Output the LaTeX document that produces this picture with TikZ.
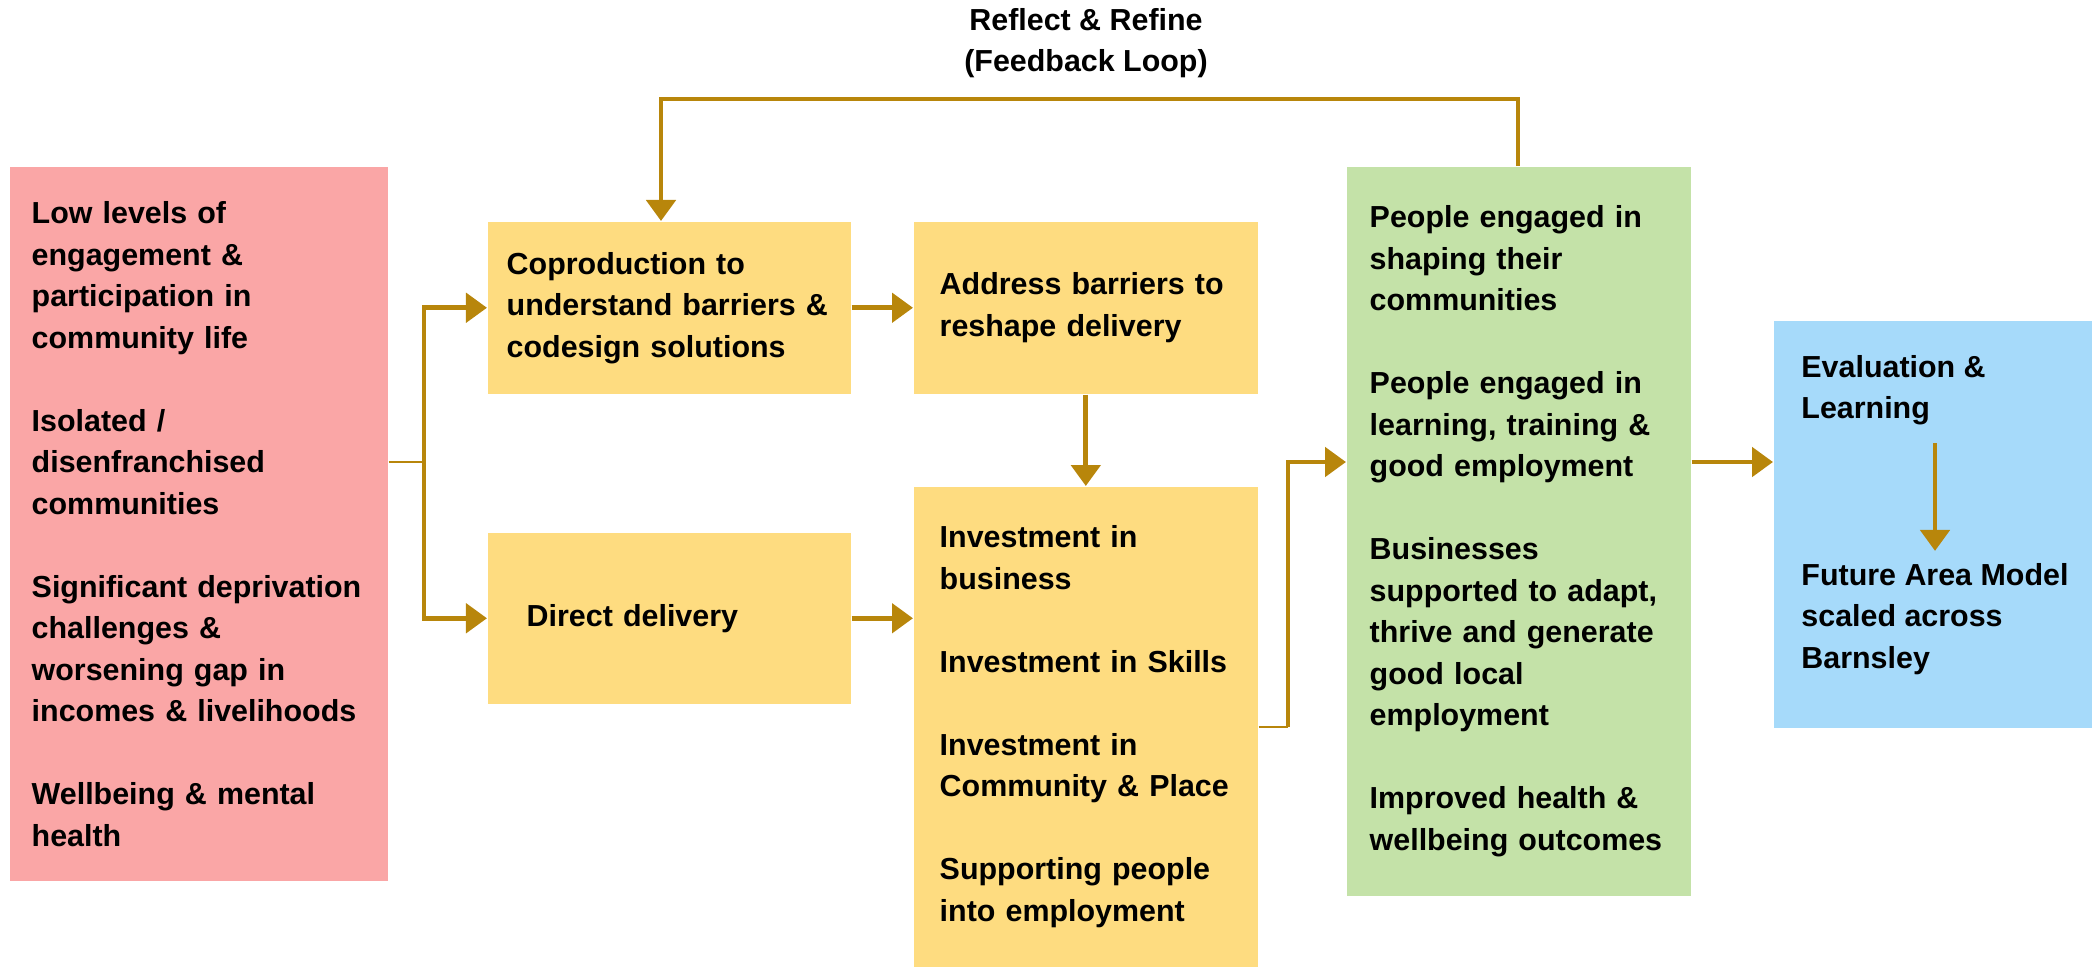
\documentclass[tikz,border=0pt]{standalone}
\usepackage{fontspec}
\setmainfont{Liberation Sans}
\usetikzlibrary{arrows.meta}

\definecolor{gold}{RGB}{184,134,11}
\definecolor{issuered}{RGB}{250,166,166}
\definecolor{stepyellow}{RGB}{254,220,128}
\definecolor{outgreen}{RGB}{196,226,168}
\definecolor{evalblue}{RGB}{166,218,250}

\tikzset{
  box/.style={rectangle, anchor=north west, align=left, inner ysep=0pt,
    font=\fontsize{8.65}{11.8}\selectfont\bfseries},
  txt/.style={align=left, font=\fontsize{8.65}{11.8}\selectfont\bfseries},
  arr/.style={gold, line width=1.4pt, -{Triangle[length=0.21cm,width=0.29cm]}},
  link/.style={gold, line width=0.75pt},
}

\begin{document}
\begin{tikzpicture}[x=0.01cm, y=-0.01cm]
        \def \gap {11.8pt}
        \useasboundingbox (0,0) rectangle (2094,966);

        % left column: the issues
        \node[box, fill=issuered, inner xsep=0.22cm, text width=3.34cm, minimum height=7.14cm] (issues) at (9,166)
          {Low levels of\\engagement \&\\participation in\\community life\\[\gap]
           Isolated /\\disenfranchised\\communities\\[\gap]
           Significant deprivation\\challenges \&\\worsening gap in\\incomes \& livelihoods\\[\gap]
           Wellbeing \& mental\\health};

        % the two routes
        \node[box, fill=stepyellow, inner xsep=0.19cm, text width=3.25cm, minimum height=1.72cm] (coprod) at (487,221)
          {Coproduction to\\understand barriers \&\\codesign solutions};
        \node[box, fill=stepyellow, inner xsep=0.26cm, text width=2.92cm, minimum height=1.72cm] (address) at (913,221)
          {Address barriers to\\reshape delivery};
        \node[box, fill=stepyellow, inner xsep=0.39cm, text width=2.85cm, minimum height=1.71cm] (direct) at (487,532)
          {Direct delivery};
        \node[box, fill=stepyellow, inner xsep=0.26cm, text width=2.92cm, minimum height=4.80cm] (invest) at (913,486)
          {Investment in\\business\\[\gap]
           Investment in Skills\\[\gap]
           Investment in\\Community \& Place\\[\gap]
           Supporting people\\into employment};

        % outcomes
        \node[box, fill=outgreen, inner xsep=0.23cm, text width=2.98cm, minimum height=7.29cm] (outcomes) at (1346,166)
          {People engaged in\\shaping their\\communities\\[\gap]
           People engaged in\\learning, training \&\\good employment\\[\gap]
           Businesses\\supported to adapt,\\thrive and generate\\good local\\employment\\[\gap]
           Improved health \&\\wellbeing outcomes};

        % evaluation
        \node[box, fill=evalblue, minimum width=3.18cm, minimum height=4.07cm] (eval) at (1773,320) {};
        \node[txt, anchor=west] (evaltext) at (1789,390) {Evaluation \&\\Learning};
        \node[txt, anchor=west] (future) at (1789,619) {Future Area Model\\scaled across\\Barnsley};

        \node[txt, align=center] (loop) at (1086,43) {Reflect \& Refine\\(Feedback Loop)};

        \coordinate (split) at (424,462);
        \coordinate (rise) at (1288,462);
        \coordinate (loopl) at (661,99);
        \coordinate (loopr) at (1518,99);
        \coordinate (drop) at (1935,0);

        % connectors
        \draw[link] (issues.east |- split) -- (split);
        \draw[arr] (split |- direct.west) -- (split |- coprod.west) -- (coprod.west);
        \draw[arr] (split) |- (direct.west);
        \draw[arr] (coprod) -- (address);
        \draw[arr] (address) -- (invest);
        \draw[arr] (direct.east) -- (direct.east -| invest.west);
        \draw[link] (invest.east) -- (invest.east -| rise);
        \draw[arr] (invest.east -| rise) -- (rise) -- (outcomes.west |- rise);
        \draw[arr] (outcomes.east |- rise) -- (eval.west |- rise);
        \draw[arr] ([yshift=-0.06cm]evaltext.south -| drop) -- (future.north -| drop);
        \draw[arr] (outcomes.north -| loopr) -- (loopr) -- (loopl) -- (coprod.north -| loopl);
\end{tikzpicture}
\end{document}
